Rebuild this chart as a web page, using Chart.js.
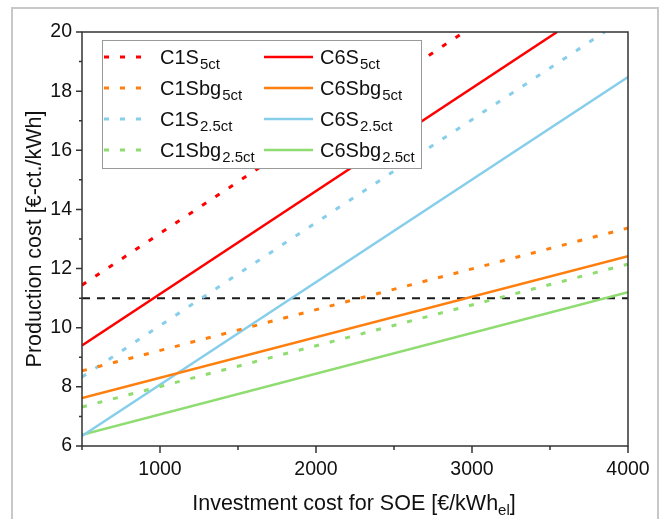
<!DOCTYPE html>
<html>
<head>
<meta charset="utf-8">
<script src="https://cdn.jsdelivr.net/npm/chart.js@4.4.1/dist/chart.umd.min.js"></script>
<style>
  html, body { margin: 0; padding: 0; background: #fff; }
  #wrap { position: relative; width: 665px; height: 519px; overflow: hidden; }
  #frame { position: absolute; left: 11px; top: 7px; width: 648px; height: 600px;
           border: 2px solid #c8c8c8; box-sizing: border-box; pointer-events: none; }
</style>
</head>
<body>
<div id="wrap">
  <canvas id="chart" width="665" height="519"></canvas>
  <div id="frame"></div>
</div>
<script>
// Datos (líneas rectas: punto inicial y final)
const labelBase = ['C1S', 'C1Sbg', 'C1S', 'C1Sbg', 'C6S', 'C6Sbg', 'C6S', 'C6Sbg'];
const labelSub  = ['5ct', '5ct', '2.5ct', '2.5ct', '5ct', '5ct', '2.5ct', '2.5ct'];
const xValues = [
  [500, 2950], [500, 4000], [500, 3850], [500, 4000],
  [500, 3545], [500, 4000], [500, 4000], [500, 4000]
];
const yValues = [
  [11.44, 20], [8.54, 13.37], [8.33, 20], [7.32, 12.15],
  [9.40, 20], [7.62, 12.42], [6.34, 18.48], [6.38, 11.20]
];
const refX = [500, 4000];
const refY = [11, 11];
const xTicks = [1000, 2000, 3000, 4000];
const yTicks = [6, 8, 10, 12, 14, 16, 18, 20];

const COLORS = ['#ff0000', '#ff7f0e', '#87ceeb', '#8fdc70', '#ff0000', '#ff7f0e', '#87ceeb', '#8fdc70'];
const DASH = [5, 11];
const FONT = '"Liberation Sans", Arial, sans-serif';

const datasets = labelBase.map((b, i) => ({
  label: b + labelSub[i],
  data: xValues[i].map((x, j) => ({ x, y: yValues[i][j] })),
  borderColor: COLORS[i],
  borderWidth: i < 4 ? 3 : 2.5,
  borderDash: i < 4 ? DASH : [],
  pointRadius: 0,
  fill: false,
  tension: 0,
  order: 1
}));
datasets.push({
  label: 'ref',
  data: refX.map((x, j) => ({ x, y: refY[j] })),
  borderColor: '#1a1a1a',
  borderWidth: 2,
  borderDash: [8, 7],
  pointRadius: 0,
  order: 2
});

// Marco, ticks, títulos y leyenda con subíndices
const decor = {
  id: 'decor',
  afterDraw(chart) {
    const ctx = chart.ctx;
    const a = chart.chartArea;
    const xs = chart.scales.x, ys = chart.scales.y;
    ctx.save();
    ctx.strokeStyle = '#333';
    ctx.lineWidth = 1.5;
    ctx.strokeRect(a.left, a.top, a.right - a.left, a.bottom - a.top);
    // ticks
    ctx.beginPath();
    for (let v = 6; v <= 20; v += 1) {
      const y = ys.getPixelForValue(v);
      const len = yTicks.includes(v) ? 6 : 3;
      ctx.moveTo(a.left - len, y); ctx.lineTo(a.left, y);
    }
    for (let v = 500; v <= 4000; v += 500) {
      const x = xs.getPixelForValue(v);
      const len = xTicks.includes(v) ? 7 : 4;
      ctx.moveTo(x, a.bottom); ctx.lineTo(x, a.bottom + len);
    }
    ctx.stroke();

    // título eje Y
    ctx.fillStyle = '#111';
    ctx.font = '21.5px ' + FONT;
    ctx.save();
    ctx.translate(41, 239);
    ctx.rotate(-Math.PI / 2);
    ctx.textAlign = 'center';
    ctx.textBaseline = 'alphabetic';
    ctx.fillText('Production cost [€-ct./kWh]', 0, 0);
    ctx.restore();

    // título eje X con subíndice
    const main = 'Investment cost for SOE [€/kWh';
    ctx.font = '21.5px ' + FONT;
    const w1 = ctx.measureText(main).width;
    const w3 = ctx.measureText(']').width;
    ctx.font = '15px ' + FONT;
    const w2 = ctx.measureText('el').width;
    let x0 = 354 - (w1 + w2 + w3) / 2;
    const yb = 510;
    ctx.textAlign = 'left';
    ctx.font = '21.5px ' + FONT;
    ctx.fillText(main, x0, yb);
    ctx.font = '15px ' + FONT;
    ctx.fillText('el', x0 + w1, yb + 5);
    ctx.font = '21.5px ' + FONT;
    ctx.fillText(']', x0 + w1 + w2, yb);

    // leyenda
    const bx = 102, by = 40, bw = 319, bh = 128;
    ctx.fillStyle = '#fff';
    ctx.fillRect(bx, by, bw, bh);
    ctx.strokeStyle = '#999';
    ctx.lineWidth = 1;
    ctx.strokeRect(bx + 0.5, by + 0.5, bw, bh);
    const cols = [{ l: 104, r: 143, t: 160 }, { l: 264, r: 313, t: 320 }];
    labelBase.forEach((b, i) => {
      const c = cols[Math.floor(i / 4)];
      const y = 57 + (i % 4) * 31;
      ctx.strokeStyle = COLORS[i];
      ctx.lineWidth = i < 4 ? 3 : 2.5;
      ctx.setLineDash(i < 4 ? DASH : []);
      ctx.beginPath();
      ctx.moveTo(c.l, y); ctx.lineTo(c.r, y);
      ctx.stroke();
      ctx.setLineDash([]);
      ctx.fillStyle = '#111';
      ctx.font = '20px ' + FONT;
      ctx.fillText(b, c.t, y + 7);
      const wb = ctx.measureText(b).width;
      ctx.font = '15px ' + FONT;
      ctx.fillText(labelSub[i], c.t + wb + 1, y + 12);
    });
    ctx.restore();
  }
};

new Chart(document.getElementById('chart'), {
  type: 'line',
  data: { datasets },
  plugins: [decor],
  options: {
    responsive: false,
    animation: false,
    layout: { padding: { top: 32, right: 37, left: 0, bottom: 0 } },
    plugins: { legend: { display: false }, tooltip: { enabled: false } },
    scales: {
      x: {
        type: 'linear', min: 500, max: 4000,
        afterFit: s => { s.height = 73; },
        grid: { display: false, drawTicks: false },
        border: { display: false },
        ticks: {
          stepSize: 500, padding: 12, color: '#111',
          font: { size: 19.5, family: FONT },
          maxRotation: 0, autoSkip: false,
          callback: v => xTicks.includes(v) ? String(v) : ''
        }
      },
      y: {
        type: 'linear', min: 6, max: 20,
        afterFit: s => { s.width = 82; },
        grid: { display: false, drawTicks: false },
        border: { display: false },
        ticks: {
          stepSize: 1, padding: 10, color: '#111',
          font: { size: 19.5, family: FONT },
          autoSkip: false,
          callback: v => yTicks.includes(v) ? String(v) : ''
        }
      }
    }
  }
});
</script>
</body>
</html>
